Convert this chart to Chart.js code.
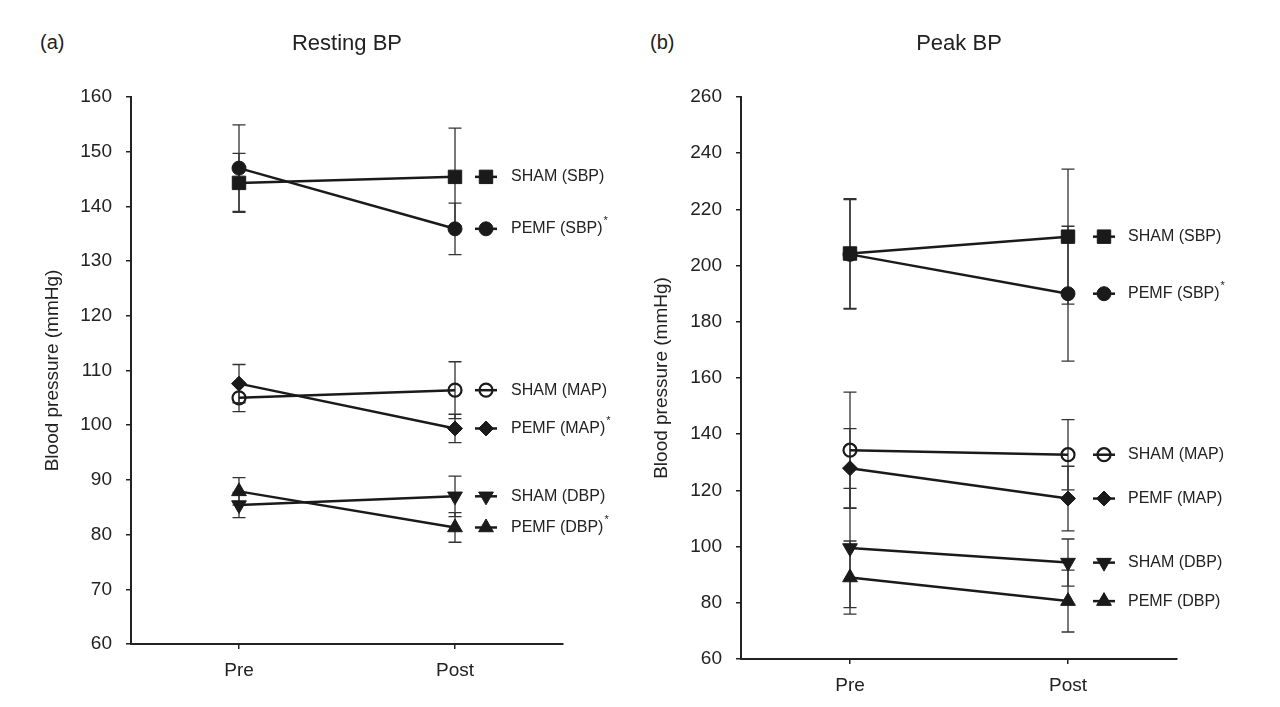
<!doctype html>
<html lang="en">
<head>
<meta charset="utf-8">
<title>Resting and peak BP</title>
<script src="https://cdn.jsdelivr.net/npm/chart.js@4.4.1/dist/chart.umd.min.js"></script>
<style>
  body { margin: 0; background: #fff; }
  .wrap { position: relative; width: 1280px; height: 707px; }
  canvas { position: absolute; top: 0; }
  #left { left: 0; }
  #right { left: 640px; }
  .tag { position: absolute; top: 31px; line-height: 24px; font: 20px "Liberation Sans", Arial, sans-serif; color: #222; }
</style>
</head>
<body>
<div class="wrap">
  <span class="tag" style="left:40px">(a)</span>
  <span class="tag" style="left:650px">(b)</span>
  <canvas id="left" width="640" height="707"></canvas>
  <canvas id="right" width="640" height="707"></canvas>
</div>

<script>
const FONT = "'Liberation Sans', Arial, sans-serif";
const timepoints = ['Pre', 'Post'];
const seriesNames = ['SHAM (SBP)', 'PEMF (SBP)', 'SHAM (MAP)', 'PEMF (MAP)', 'SHAM (DBP)', 'PEMF (DBP)'];

// (a) resting BP, mean and SD at Pre / Post
const restTicks = [60, 70, 80, 90, 100, 110, 120, 130, 140, 150, 160];
const restShamSBP = [144.3, 145.4];
const restShamSBPsd = [5.4, 8.9];
const restPemfSBP = [147.0, 135.9];
const restPemfSBPsd = [7.9, 4.7];
const restShamMAP = [105.0, 106.4];
const restShamMAPsd = [2.5, 5.2];
const restPemfMAP = [107.6, 99.4];
const restPemfMAPsd = [3.5, 2.6];
const restShamDBP = [85.4, 87.0];
const restShamDBPsd = [2.3, 3.7];
const restPemfDBP = [87.9, 81.3];
const restPemfDBPsd = [2.5, 2.7];
const restStar = [false, true, false, true, false, true];

// (b) peak BP
const peakTicks = [60, 80, 100, 120, 140, 160, 180, 200, 220, 240, 260];
const peakShamSBP = [204.3, 210.3];
const peakShamSBPsd = [19.5, 24.0];
const peakPemfSBP = [204.0, 190.0];
const peakPemfSBPsd = [19.5, 24.0];
const peakShamMAP = [134.3, 132.7];
const peakShamMAPsd = [20.7, 12.5];
const peakPemfMAP = [127.9, 117.1];
const peakPemfMAPsd = [14.1, 11.5];
const peakShamDBP = [99.5, 94.3];
const peakShamDBPsd = [21.2, 8.4];
const peakPemfDBP = [89.0, 80.6];
const peakPemfDBPsd = [13.0, 11.0];
const peakStar = [false, true, false, false, false, false];

// marker look per series (same order as seriesNames)
const markers = [
  {style: 'rect', r: 9.5, rot: 0, fill: '#1a1a1a', bw: 1},
  {style: 'circle', r: 7, rot: 0, fill: '#1a1a1a', bw: 1},
  {style: 'circle', r: 6.5, rot: 0, fill: 'rgba(255,255,255,0)', bw: 2.2},
  {style: 'rectRot', r: 7.5, rot: 0, fill: '#1a1a1a', bw: 1},
  {style: 'triangle', r: 8.5, rot: 180, fill: '#1a1a1a', bw: 1},
  {style: 'triangle', r: 8.5, rot: 0, fill: '#1a1a1a', bw: 1}
];

// SD whiskers, drawn under the lines
const errorBars = {
  id: 'errorBars',
  beforeDatasetsDraw(chart, args, opts) {
    const {ctx, scales: {x, y}} = chart;
    ctx.save();
    ctx.strokeStyle = '#333';
    ctx.lineWidth = 1.3;
    chart.data.datasets.forEach(ds => {
      ds.data.forEach((v, i) => {
        const px = x.getPixelForValue(i);
        const top = y.getPixelForValue(v + ds.sd[i]);
        const bot = y.getPixelForValue(v - ds.sd[i]);
        ctx.beginPath();
        ctx.moveTo(px, top); ctx.lineTo(px, bot);
        ctx.moveTo(px - opts.cap, top); ctx.lineTo(px + opts.cap, top);
        ctx.moveTo(px - opts.cap, bot); ctx.lineTo(px + opts.cap, bot);
        ctx.stroke();
      });
    });
    ctx.restore();
  }
};

// series names next to the Post points
const sideKey = {
  id: 'sideKey',
  afterDraw(chart, args, opts) {
    const {ctx, scales: {x, y}} = chart;
    const last = timepoints.length - 1;
    const xm = x.getPixelForValue(last) + opts.markOffset;
    chart.data.datasets.forEach(ds => {
      const py = y.getPixelForValue(ds.data[last]);
      ctx.save();
      ctx.strokeStyle = '#1a1a1a';
      ctx.lineWidth = 2.5;
      ctx.beginPath();
      ctx.moveTo(xm - 11, py); ctx.lineTo(xm + 11, py);
      ctx.stroke();
      ctx.fillStyle = ds.pointBackgroundColor;
      ctx.lineWidth = ds.pointBorderWidth;
      Chart.helpers.drawPoint(ctx, {
        pointStyle: ds.pointStyle, radius: ds.pointRadius,
        rotation: ds.pointRotation, borderWidth: ds.pointBorderWidth
      }, xm, py);
      ctx.fillStyle = '#222';
      ctx.font = '16px ' + FONT;
      ctx.textBaseline = 'middle';
      ctx.fillText(ds.label, xm + opts.textOffset, py);
      if (ds.star) {
        const w = ctx.measureText(ds.label).width;
        ctx.font = '11px ' + FONT;
        ctx.fillText('*', xm + opts.textOffset + w + 1, py - 8);
      }
      ctx.restore();
    });
  }
};

function makeChart(id, title, ticks, means, sds, stars, g) {
  const datasets = means.map((m, k) => ({
    label: seriesNames[k],
    data: m,
    sd: sds[k],
    star: stars[k],
    borderColor: '#1a1a1a',
    borderWidth: 2.5,
    tension: 0,
    fill: false,
    pointStyle: markers[k].style,
    pointRadius: markers[k].r,
    pointHoverRadius: markers[k].r,
    pointRotation: markers[k].rot,
    pointBackgroundColor: markers[k].fill,
    pointBorderColor: '#1a1a1a',
    pointBorderWidth: markers[k].bw
  }));
  const axisGrid = {drawOnChartArea: false, tickLength: 5, color: '#222', lineWidth: 1.5};
  const axisBorder = {color: '#222', width: 2};
  return new Chart(document.getElementById(id), {
    type: 'line',
    data: {labels: timepoints, datasets: datasets},
    plugins: [errorBars, sideKey],
    options: {
      responsive: false,
      animation: false,
      layout: {padding: {left: 0, right: g.padRight, top: 0, bottom: 0}},
      plugins: {
        legend: {display: false},
        tooltip: {enabled: false},
        title: {
          display: true, text: title, fullSize: false, color: '#222',
          font: {size: 22, weight: 'normal', family: FONT},
          padding: {top: 31, bottom: 39.6}
        },
        errorBars: {cap: 6.5},
        sideKey: {markOffset: g.markOffset, textOffset: g.textOffset}
      },
      scales: {
        x: {
          type: 'category',
          offset: true,
          grid: axisGrid,
          border: axisBorder,
          ticks: {font: {size: 19, family: FONT}, color: '#222', padding: 10},
          afterFit(s) { s.height = g.xHeight; }
        },
        y: {
          min: ticks[0],
          max: ticks[ticks.length - 1],
          grid: axisGrid,
          border: axisBorder,
          ticks: {stepSize: ticks[1] - ticks[0], font: {size: 19, family: FONT}, color: '#222', padding: 14},
          title: {
            display: true, text: 'Blood pressure (mmHg)', color: '#222',
            font: {size: 19, family: FONT},
            padding: {top: g.titlePad, bottom: 0}
          },
          afterFit(s) { s.width = g.axisWidth; }
        }
      }
    }
  });
}

makeChart('left', 'Resting BP', restTicks,
  [restShamSBP, restPemfSBP, restShamMAP, restPemfMAP, restShamDBP, restPemfDBP],
  [restShamSBPsd, restPemfSBPsd, restShamMAPsd, restPemfMAPsd, restShamDBPsd, restPemfDBPsd],
  restStar,
  {axisWidth: 131, titlePad: 41, padRight: 77, xHeight: 63, markOffset: 31, textOffset: 25});

makeChart('right', 'Peak BP', peakTicks,
  [peakShamSBP, peakPemfSBP, peakShamMAP, peakPemfMAP, peakShamDBP, peakPemfDBP],
  [peakShamSBPsd, peakPemfSBPsd, peakShamMAPsd, peakPemfMAPsd, peakShamDBPsd, peakPemfDBPsd],
  peakStar,
  {axisWidth: 101, titlePad: 10.6, padRight: 103, xHeight: 48, markOffset: 36, textOffset: 24});
</script>
</body>
</html>
